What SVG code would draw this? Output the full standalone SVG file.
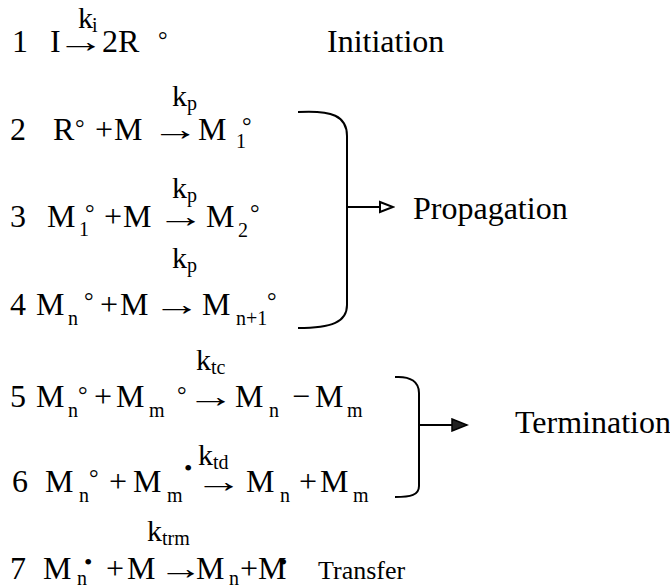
<svg xmlns="http://www.w3.org/2000/svg" width="670" height="587" viewBox="0 0 670 587">
<defs>
<style>
.t{font-size:32px}
.lab{font-size:32px}
.k{font-size:30px}
.s{font-size:20px}
.d{font-size:24px}
.br{fill:none;stroke:#000;stroke-width:2}
</style>
<marker id="hollow" markerUnits="userSpaceOnUse" markerWidth="16" markerHeight="14" refX="14" refY="7" orient="auto">
<path d="M1,2 L14,7 L1,12 Z" fill="#fff" stroke="#000" stroke-width="2"/>
</marker>
<marker id="solid" markerUnits="userSpaceOnUse" markerWidth="18" markerHeight="14" refX="16" refY="7" orient="auto">
<path d="M1,1 L16,7 L1,13 Z" fill="#222" stroke="#000" stroke-width="1.5"/>
</marker>
</defs>
<rect width="670" height="587" fill="#fff"/>
<g font-family="Liberation Serif, Times New Roman, serif" fill="#000">
<g id="eq1">
<text class="t" x="12" y="52">1</text>
<text class="t" x="50" y="52">I</text>
<text class="t" transform="translate(57,52) scale(1.5,1)">→</text>
<text class="k" x="78" y="28">k</text><text class="s" x="92" y="32">i</text>
<text class="t" x="102" y="52">2R</text>
<text class="d" x="158" y="48">°</text>
</g>
<g id="initiation"><text class="lab" x="327" y="52">Initiation</text></g>

<g id="eq2">
<text class="t" x="10" y="140">2</text>
<text class="t" x="53" y="140">R</text>
<text class="d" x="75" y="136">°</text>
<text class="t" x="95" y="140">+</text>
<text class="t" x="114" y="140">M</text>
<text class="k" x="172" y="106">k</text><text class="s" x="187" y="110">p</text>
<text class="t" transform="translate(151.5,140) scale(1.5,1)">→</text>
<text class="t" x="198" y="140">M</text>
<text class="s" x="236" y="148">1</text>
<text class="d" x="242" y="134">°</text>
</g>

<g id="eq3">
<text class="t" x="10" y="227">3</text>
<text class="t" x="47" y="227">M</text>
<text class="s" x="79" y="236">1</text>
<text class="d" x="85" y="221">°</text>
<text class="t" x="104" y="227">+</text>
<text class="t" x="123" y="227">M</text>
<text class="k" x="172" y="198">k</text><text class="s" x="187" y="202">p</text>
<text class="t" transform="translate(157,227) scale(1.5,1)">→</text>
<text class="t" x="206" y="227">M</text>
<text class="s" x="238" y="237">2</text>
<text class="d" x="250" y="221">°</text>
</g>

<g id="eq4">
<text class="t" x="10" y="315">4</text>
<text class="t" x="36" y="315">M</text>
<text class="s" x="68" y="325">n</text>
<text class="d" x="84" y="309">°</text>
<text class="t" x="100" y="315">+</text>
<text class="t" x="120" y="315">M</text>
<text class="k" x="172" y="268">k</text><text class="s" x="187" y="272">p</text>
<text class="t" transform="translate(153,315) scale(1.5,1)">→</text>
<text class="t" x="202" y="315">M</text>
<text class="s" x="236" y="325">n+1</text>
<text class="d" x="267" y="309">°</text>
</g>

<g id="eq5">
<text class="t" x="10" y="407">5</text>
<text class="t" x="36" y="407">M</text>
<text class="s" x="68" y="417">n</text>
<text class="d" x="78" y="403">°</text>
<text class="t" x="94" y="407">+</text>
<text class="t" x="116" y="407">M</text>
<text class="s" x="149" y="417">m</text>
<text class="d" x="177" y="403">°</text>
<text class="k" x="196" y="370">k</text><text class="s" x="211" y="374">tc</text>
<text class="t" transform="translate(187,407) scale(1.5,1)">→</text>
<text class="t" x="235" y="407">M</text>
<text class="s" x="269" y="417">n</text>
<text class="t" x="292" y="407">−</text>
<text class="t" x="315" y="407">M</text>
<text class="s" x="347" y="417">m</text>
</g>

<g id="eq6">
<text class="t" x="12" y="492">6</text>
<text class="t" x="45" y="492">M</text>
<text class="s" x="79" y="502">n</text>
<text class="d" x="89" y="486">°</text>
<text class="t" x="109" y="492">+</text>
<text class="t" x="133" y="492">M</text>
<text class="s" x="167" y="502">m</text>
<text class="d" x="184" y="476">•</text>
<text class="k" x="198" y="465">k</text><text class="s" x="213" y="469">td</text>
<text class="t" transform="translate(195,492) scale(1.5,1)">→</text>
<text class="t" x="246" y="492">M</text>
<text class="s" x="280" y="502">n</text>
<text class="t" x="299" y="492">+</text>
<text class="t" x="320" y="492">M</text>
<text class="s" x="353" y="502">m</text>
</g>

<g id="eq7">
<text class="k" x="147" y="541">k</text><text class="s" x="162" y="545">trm</text>
<text class="t" x="10" y="579">7</text>
<text class="t" x="43" y="579">M</text>
<text class="s" x="77" y="585">n</text>
<text class="d" x="84" y="570">•</text>
<text class="t" x="106" y="579">+</text>
<text class="t" x="127" y="579">M</text>
<text class="t" transform="translate(158,579) scale(1.4,1)">→</text>
<text class="t" x="196" y="579">M</text>
<text class="s" x="229" y="585">n</text>
<text class="t" x="240" y="579">+M</text>
<text class="d" x="279" y="570">•</text>
</g>
<g id="transfer"><text x="318" y="579" font-size="26">Transfer</text></g>

<g id="propagation"><text class="lab" x="413" y="219">Propagation</text></g>
<g id="termination"><text class="lab" x="515" y="433">Termination</text></g>
</g>
<g id="connectors">
<path class="br" d="M298,112 C332,110 347,116 347,136 L347,305 C347,322 332,328 298,328"/>
<line x1="347" y1="207" x2="393" y2="207" stroke="#000" stroke-width="2" marker-end="url(#hollow)"/>
<path class="br" d="M395,377 C411,376 419,382 419,393 L419,486 C419,495 411,497 395,497"/>
<line x1="419" y1="425" x2="467" y2="425" stroke="#000" stroke-width="2" marker-end="url(#solid)"/>
</g>
</svg>
